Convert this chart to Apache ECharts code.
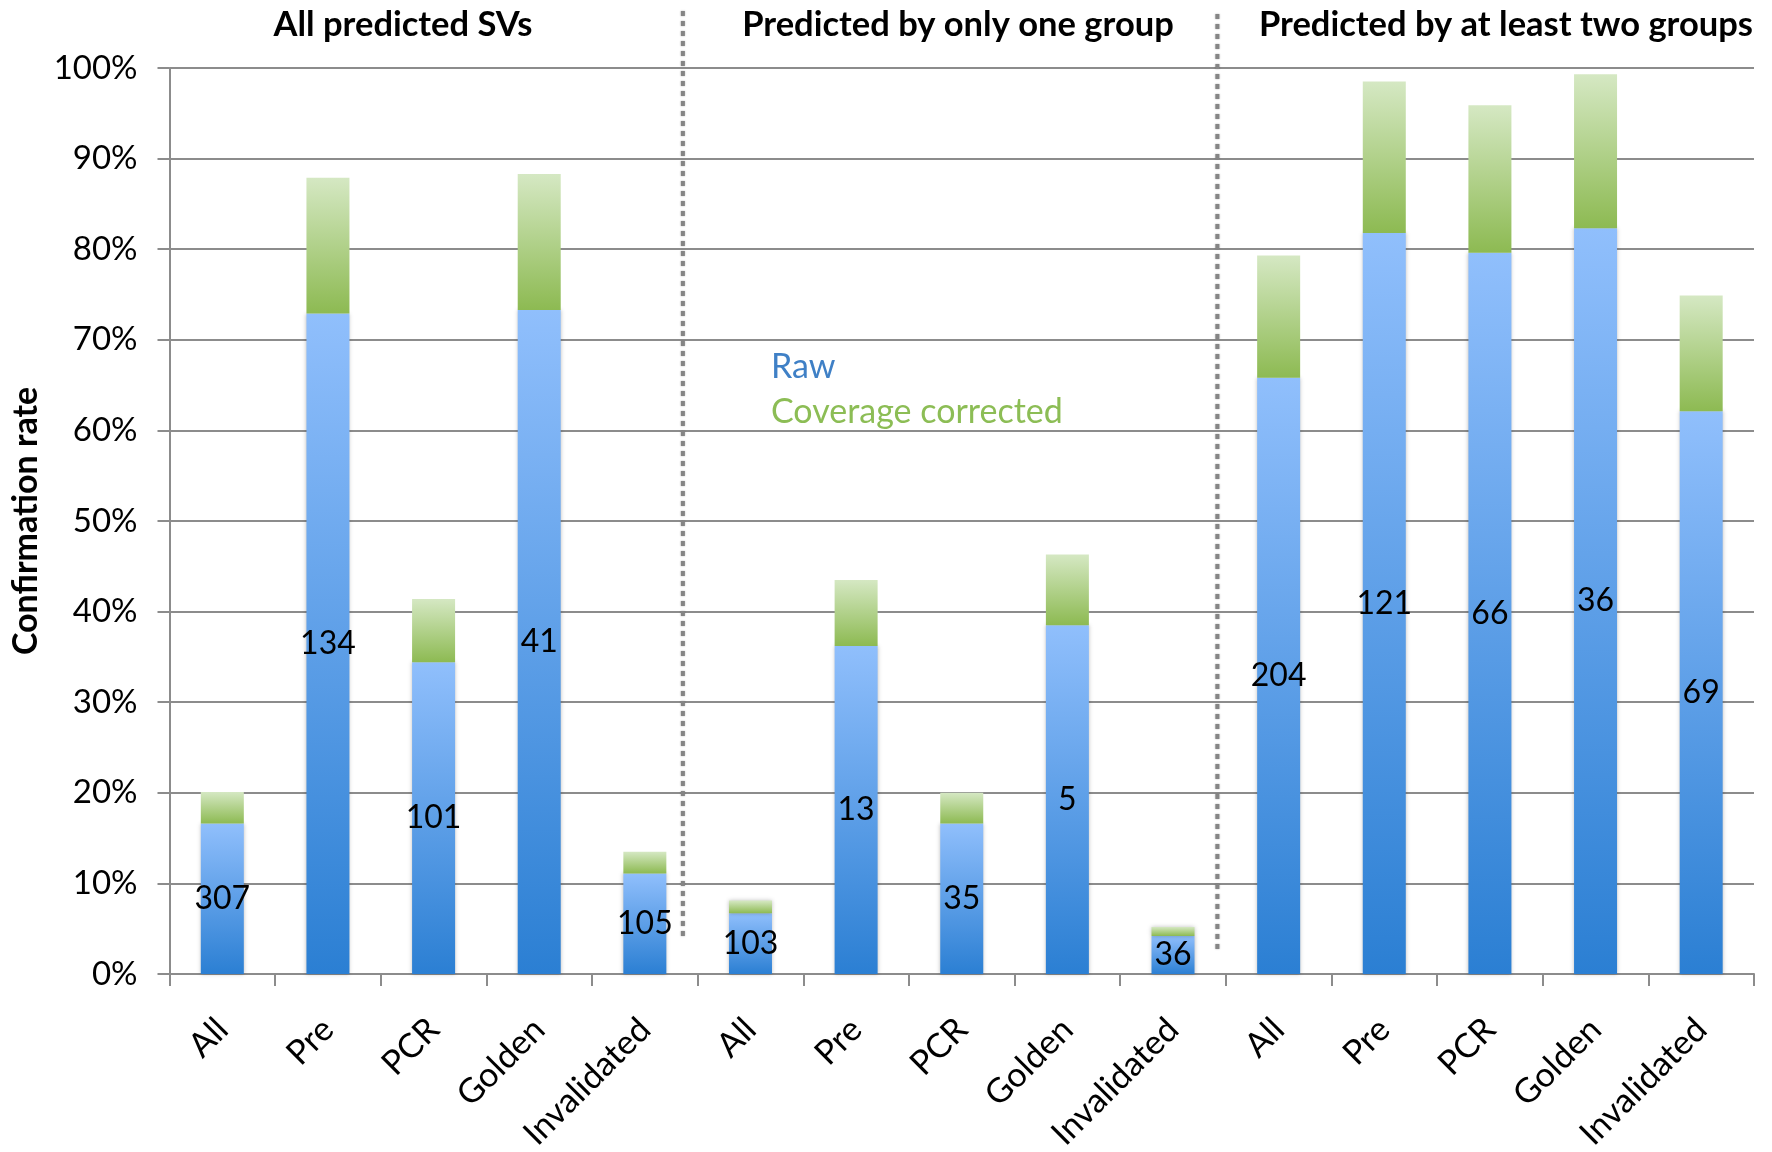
<!DOCTYPE html>
<html>
<head>
<meta charset="utf-8">
<title>Confirmation rate of predicted SVs</title>
<script src="https://cdn.jsdelivr.net/npm/echarts@6/dist/echarts.min.js"></script>
<style>
  html, body { margin: 0; padding: 0; background: #ffffff; }
  #chart { width: 1772px; height: 1152px; }
</style>
</head>
<body>
<div id="chart"></div>
<script>
// Category labels, five per subset
const categories = [
  'All', 'Pre', 'PCR', 'Golden', 'Invalidated',
  'All', 'Pre', 'PCR', 'Golden', 'Invalidated',
  'All', 'Pre', 'PCR', 'Golden', 'Invalidated'
];

// Subset headings shown above the plot
const groupTitles = ['All predicted SVs', 'Predicted by only one group', 'Predicted by at least two groups'];

// Raw confirmation rate (%)
const rawRate = [
  16.6, 72.9, 34.4, 73.3, 11.1,
  6.7, 36.2, 16.6, 38.5, 4.2,
  65.8, 81.8, 79.6, 82.3, 62.1
];

// Coverage-corrected confirmation rate (%)
const correctedRate = [
  20.1, 87.9, 41.4, 88.3, 13.5,
  8.1, 43.5, 20.0, 46.3, 5.2,
  79.3, 98.5, 95.9, 99.3, 74.9
];

// Number of SVs tested in each category
const counts = [
  307, 134, 101, 41, 105,
  103, 13, 35, 5, 36,
  204, 121, 66, 36, 69
];

// y-axis ticks
const yMin = 0, yMax = 100, yStep = 10;

// The corrected part is stacked on top of the raw part
const correctionPart = correctedRate.map((v, i) => +(v - rawRate[i]).toFixed(1));

const FONT = 'Lato, "Noto Sans", sans-serif';
const GRID_COLOR = '#8c8c8c';

const chart = echarts.init(document.getElementById('chart'), null, { renderer: 'canvas' });

const blueFill = new echarts.graphic.LinearGradient(0, 0, 0, 1, [
  { offset: 0, color: '#90bffc' },
  { offset: 1, color: '#2b7fd3' }
]);
const greenFill = new echarts.graphic.LinearGradient(0, 0, 0, 1, [
  { offset: 0, color: '#d5e8c3' },
  { offset: 1, color: '#8dba52' }
]);

const option = {
  backgroundColor: '#ffffff',
  animation: false,
  textStyle: { fontFamily: FONT },
  grid: {
    left: 169.5, right: 18, top: 68, bottom: 178,
    containLabel: false,
    outerBoundsMode: 'none'
  },
  legend: {
    orient: 'vertical',
    left: 761,
    top: 345,
    itemWidth: 0,
    itemHeight: 0,
    itemGap: 11,
    selectedMode: false,
    textStyle: { fontSize: 34, fontFamily: FONT },
    data: [
      { name: 'Raw', icon: 'rect', textStyle: { color: '#3f80c6' } },
      { name: 'Coverage corrected', icon: 'rect', textStyle: { color: '#8cbd55' } }
    ]
  },
  xAxis: {
    type: 'category',
    data: categories,
    axisLine: { show: true, lineStyle: { color: GRID_COLOR, width: 2 } },
    axisTick: { show: true, length: 12, interval: 0, lineStyle: { color: GRID_COLOR, width: 2 } },
    axisLabel: {
      interval: 0,
      rotate: 45,
      margin: 50,
      fontSize: 34,
      color: '#000000',
      fontFamily: FONT
    }
  },
  yAxis: {
    type: 'value',
    min: yMin,
    max: yMax,
    interval: yStep,
    name: 'Confirmation rate',
    nameLocation: 'middle',
    nameGap: 124,
    nameTextStyle: { fontSize: 34, fontWeight: 'bold', color: '#000000', fontFamily: FONT },
    axisLine: { show: true, lineStyle: { color: GRID_COLOR, width: 2 } },
    axisTick: { show: true, length: 12, lineStyle: { color: GRID_COLOR, width: 2 } },
    axisLabel: {
      formatter: '{value}%',
      fontSize: 33,
      margin: 32,
      color: '#000000',
      fontFamily: FONT
    },
    splitLine: { show: true, lineStyle: { color: GRID_COLOR, width: 2 } }
  },
  series: [
    {
      name: 'Raw',
      type: 'bar',
      stack: 'rate',
      barWidth: 43,
      data: rawRate,
      itemStyle: {
        color: blueFill,
        shadowBlur: 4,
        shadowColor: 'rgba(0,0,0,0.25)'
      },
      label: {
        show: true,
        position: 'inside',
        formatter: p => String(counts[p.dataIndex]),
        fontSize: 32,
        color: '#000000',
        fontFamily: FONT
      }
    },
    {
      name: 'Coverage corrected',
      type: 'bar',
      stack: 'rate',
      barWidth: 43,
      data: correctionPart,
      itemStyle: {
        color: greenFill,
        shadowBlur: 4,
        shadowColor: 'rgba(0,0,0,0.25)'
      }
    }
  ]
};

chart.setOption(option);

// Dotted separators between the three subsets, and the subset headings
function catX(idx) {
  return chart.convertToPixel({ xAxisIndex: 0 }, idx);
}
const sepA = catX(4) + 0.36 * (catX(5) - catX(4));
const sepB = catX(9) + 0.42 * (catX(10) - catX(9));
const titleX = [403, 958, 1506];

const sepStyle = {
  stroke: '#858585',
  lineWidth: 4,
  lineDash: [5, 5],
  shadowBlur: 2,
  shadowColor: 'rgba(0,0,0,0.3)'
};
const graphics = [
  { type: 'line', z: 10, shape: { x1: sepA, y1: 11, x2: sepA, y2: 936 }, style: sepStyle },
  { type: 'line', z: 10, shape: { x1: sepB, y1: 14, x2: sepB, y2: 949 }, style: sepStyle }
];
groupTitles.forEach((t, i) => {
  graphics.push({
    type: 'text', z: 10,
    x: titleX[i], y: 25,
    style: {
      text: t,
      fill: '#000000',
      font: 'bold 34.5px ' + FONT,
      align: 'center',
      verticalAlign: 'middle'
    }
  });
});

chart.setOption({ graphic: graphics });
</script>
</body>
</html>
